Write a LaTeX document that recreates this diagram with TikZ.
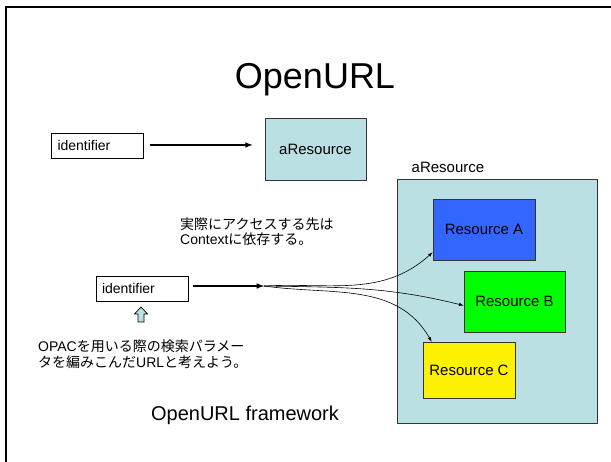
\documentclass[tikz,border=0pt]{standalone}
\usepackage{fontspec}
\setmainfont{Liberation Sans}
\newfontfamily\jpfont{Noto Sans CJK JP}
\usepackage{tikz}
\definecolor{paleblue}{RGB}{187,224,227}
\definecolor{resblue}{RGB}{51,102,255}

\begin{document}
\begin{tikzpicture}[x=1pt,y=1pt,
  idbox/.style={draw, line width=0.8pt, inner xsep=6pt, inner ysep=0pt, text width=80pt, minimum height=25pt, align=left, font=\fontsize{14}{16}\selectfont},
  resbox/.style={draw=black!80, line width=0.8pt, inner sep=0pt, font=\fontsize{15}{17}\selectfont},
  link/.style={->, >=latex, line width=0.6pt}]
\useasboundingbox (0,0) rectangle (611,461);
\draw[line width=2.5pt] (6,-10) |- (620,454);
\node[anchor=base, font=\fontsize{36}{40}\selectfont] (title) at (315,372) {OpenURL};
% upper row: identifier -> resource
\node[idbox] (id1) at (97.5,315.5) {identifier};
\node[resbox, fill=paleblue, minimum width=101pt, minimum height=62pt] (res) at (315.5,312) {aResource};
\draw[->, >=latex, line width=1.5pt, shorten <=6pt, shorten >=12pt] (id1.east |- 0,316) -- (res.west |- 0,316);
% lower row: identifier resolved by context
\node[resbox, fill=paleblue, minimum width=200pt, minimum height=244pt] (group) at (497,160) {};
\node[font=\fontsize{15}{17}\selectfont] (grouplabel) at (448,294) {aResource};
\node[resbox, fill=resblue, minimum width=102pt, minimum height=61pt] (resA) at (484,231.5) {Resource A};
\node[resbox, fill=green, minimum width=101pt, minimum height=61pt] (resB) at (514.5,159.5) {Resource B};
\node[resbox, fill=yellow, minimum width=92pt, minimum height=56pt] (resC) at (469,91) {Resource C};
\node[idbox] (id2) at (142,172.5) {identifier};
\coordinate (hub) at (264,175);
\draw[->, >=latex, line width=1.5pt, shorten <=5pt] (id2.east |- hub) -- (hub);
\draw[link] (hub) to[out=3, in=222] ([yshift=8pt]resA.south west);
\draw[link] (hub) to[out=-1, in=166] ([yshift=-4pt]resB.west);
\draw[link] (hub) to[out=-8, in=120] ([xshift=9pt]resC.north west);
\draw[fill=paleblue, line width=0.7pt, shift={(141,139)}] (-3,0) -- (3,0) -- (3,8) -- (6.5,8) -- (0,15) -- (-6.5,8) -- (-3,8) -- cycle;
% notes
\node[anchor=west, align=left, inner sep=0pt, font=\fontsize{14}{15}\selectfont] (note) at (180,229.5) {{\jpfont 実際にアクセスする先は}\\Context{\jpfont に依存する。}};
\node[anchor=west, align=left, inner sep=0pt, font=\fontsize{14}{16}\selectfont] (opac) at (38,107) {OPAC{\jpfont を用いる際の検索パラメー}\\{\jpfont タを編みこんだ}URL{\jpfont と考えよう。}};
\node[anchor=base, font=\fontsize{20}{24}\selectfont] (framework) at (245,40) {OpenURL framework};
\end{tikzpicture}
\end{document}
